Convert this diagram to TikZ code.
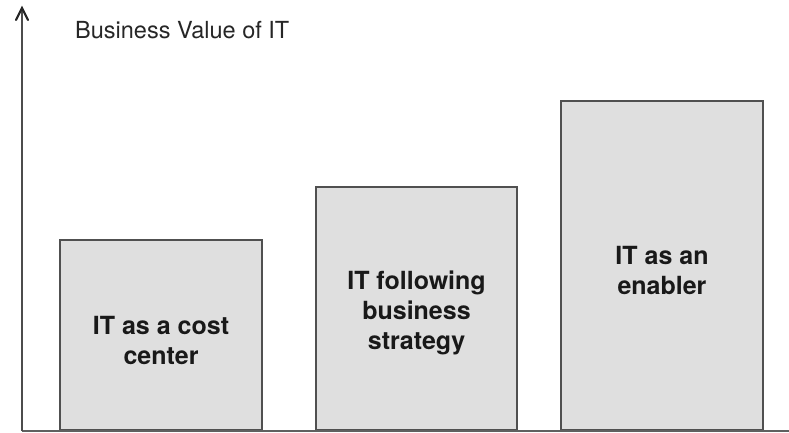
\documentclass[tikz,border=0pt]{standalone}
\usepackage{fontspec}
\setmainfont{TeX Gyre Heros}
\usetikzlibrary{arrows.meta}
\definecolor{barfill}{HTML}{DFDFDF}
\definecolor{barline}{HTML}{505050}
\definecolor{axisline}{HTML}{606060}
\tikzset{
  bar/.style={draw=barline, fill=barfill, line width=2pt, anchor=south, inner sep=0pt},
  barlabel/.style={align=center, inner sep=0pt, font=\fontsize{25}{30}\selectfont\bfseries, text=black!90},
  axis/.style={draw=axisline, line width=2pt},
}
\begin{document}
\begin{tikzpicture}[x=1pt,y=-1pt]
\useasboundingbox (0,0) rectangle (789,433);
\coordinate (o) at (22,431);
\coordinate (top) at (22,8);
\coordinate (xend) at (789,431);
\node[bar, minimum width=202pt, minimum height=190pt] (b1) at (161,431) {};
\node[bar, minimum width=201pt, minimum height=243pt] (b2) at (416.5,431) {};
\node[bar, minimum width=202pt, minimum height=329pt] (b3) at (662,431) {};
\node[barlabel] (t1) at ([yshift=-5pt]b1.center) {IT as a cost\\center};
\node[barlabel] (t2) at ([yshift=-4pt]b2.center) {IT following\\business\\strategy};
\node[barlabel] (t3) at ([yshift=-5pt]b3.center) {IT as an\\enabler};
\draw[axis] (o) -- (xend);
\draw[axis, draw=black!70] (o) -- (top);
\draw[draw=black!85, line width=2.2pt, line cap=round, line join=miter] (top) ++(-6,12) -- (top) -- ++(6,12);
\node[anchor=base west, inner sep=0pt, font=\fontsize{23.5}{28}\selectfont, text=black!85] (lbl) at (75,39) {Business Value of IT};
\end{tikzpicture}
\end{document}
